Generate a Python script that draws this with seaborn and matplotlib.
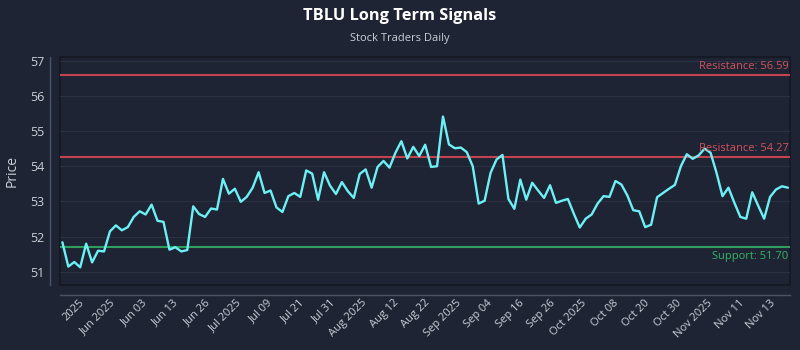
import numpy as np
import pandas as pd
import matplotlib
matplotlib.use("Agg")
import matplotlib.pyplot as plt
import seaborn as sns

prices = [
    51.84, 51.15, 51.28, 51.13, 51.80, 51.27, 51.60, 51.58, 52.15, 52.32,
    52.18, 52.27, 52.56, 52.72, 52.63, 52.91, 52.45, 52.42, 51.63, 51.70,
    51.58, 51.62, 52.86, 52.64, 52.56,
    52.80, 52.77, 53.64, 53.22, 53.36, 52.99, 53.13, 53.39, 53.83, 53.24,
    53.31, 52.83, 52.70, 53.15, 53.24, 53.13, 53.88, 53.79, 53.05, 53.83,
    53.45, 53.21, 53.55, 53.29,
    53.10, 53.78, 53.91, 53.39, 53.98, 54.15, 53.96, 54.38, 54.71, 54.22,
    54.55, 54.29, 54.61, 53.98, 54.00, 55.41, 54.62, 54.51, 54.53, 54.40,
    54.00, 52.94, 53.02, 53.81,
    54.19, 54.32, 53.07, 52.79, 53.62, 53.05, 53.53, 53.31, 53.10, 53.46,
    52.96, 53.02, 53.07, 52.65, 52.26, 52.51, 52.63, 52.94, 53.15, 53.13,
    53.58, 53.48, 53.17, 52.75, 52.72,
    52.27, 52.34, 53.12, 53.24, 53.36, 53.47, 54.00, 54.34, 54.21, 54.31,
    54.50, 54.38, 53.81, 53.15, 53.39, 52.96, 52.56, 52.51, 53.26, 52.88,
    52.51, 53.13, 53.34, 53.43, 53.39,
]
tick_labels = ["2025", "Jun 2025", "Jun 03", "Jun 13", "Jun 26", "Jul 2025",
               "Jul 09", "Jul 21", "Jul 31", "Aug 2025", "Aug 12", "Aug 22",
               "Sep 2025", "Sep 04", "Sep 16", "Sep 26", "Oct 2025", "Oct 08",
               "Oct 20", "Oct 30", "Nov 2025", "Nov 11", "Nov 13"]
resistance_levels = [56.59, 54.27]
support_levels = [51.70]

BG = "#1e2433"
TXT = "#c9ced8"

sns.set_theme(style="dark")
plt.rcParams.update({
    "figure.facecolor": BG,
    "axes.facecolor": BG,
    "text.color": TXT,
    "axes.labelcolor": TXT,
    "xtick.color": TXT,
    "ytick.color": TXT,
})
plt.rcParams["font.family"] = ["Open Sans", "DejaVu Sans"]

df = pd.DataFrame({"idx": np.arange(len(prices)), "price": prices})

fig = plt.figure(figsize=(8, 3.5), dpi=100)
ax = fig.add_axes([0.075, 0.186, 0.9125, 0.651])

sns.despine(ax=ax, offset=7, top=True, right=True)
for side in ["left", "bottom"]:
    ax.spines[side].set_color("#4b5264")
    ax.spines[side].set_linewidth(1.0)
ax.patch.set_edgecolor("#131722")
ax.patch.set_linewidth(1.2)

ax.grid(axis="y", color="#2a3142", linewidth=0.8)
ax.grid(axis="x", visible=False)

for r in resistance_levels:
    ax.axhline(r, color="#c2434f", linewidth=1.5, zorder=2)
for s in support_levels:
    ax.axhline(s, color="#2f9e5c", linewidth=1.5, zorder=2)

sns.lineplot(data=df, x="idx", y="price", ax=ax, color="#6cf0f6",
             linewidth=1.7, zorder=3)

n = len(prices)
ax.set_xlim(-0.4, n - 1 + 0.35)
ax.set_ylim(50.63, 57.1)
ax.set_yticks(range(51, 58))

tick_pos = np.linspace(4.05, 120.3, len(tick_labels))
ax.set_xticks(tick_pos)
ax.set_xticklabels(tick_labels)
ax.tick_params(axis="y", labelsize=9, length=0, pad=4)
ax.tick_params(axis="x", length=0, pad=2, labelsize=8, labelrotation=45)
plt.setp(ax.get_xticklabels(), ha="right", rotation_mode="default")

ax.set_xlabel("")
ax.set_ylabel("Price", fontsize=10, labelpad=8)

for r in resistance_levels:
    ax.text(n - 1 + 0.1, r + 0.08, f"Resistance: {r:.2f}", color="#d2525c",
            fontsize=8, ha="right", va="bottom", zorder=4)
for s in support_levels:
    ax.text(n - 1 + 0.1, s - 0.1, f"Support: {s:.2f}", color="#34b466",
            fontsize=8, ha="right", va="top", zorder=4)

fig.text(0.5, 0.955, "TBLU Long Term Signals", ha="center", va="center",
         fontsize=11.8, fontweight="bold", color="#ffffff")
fig.text(0.5, 0.89, "Stock Traders Daily", ha="center", va="center",
         fontsize=8, color=TXT)

fig.savefig("out.png", dpi=100, facecolor=BG)
